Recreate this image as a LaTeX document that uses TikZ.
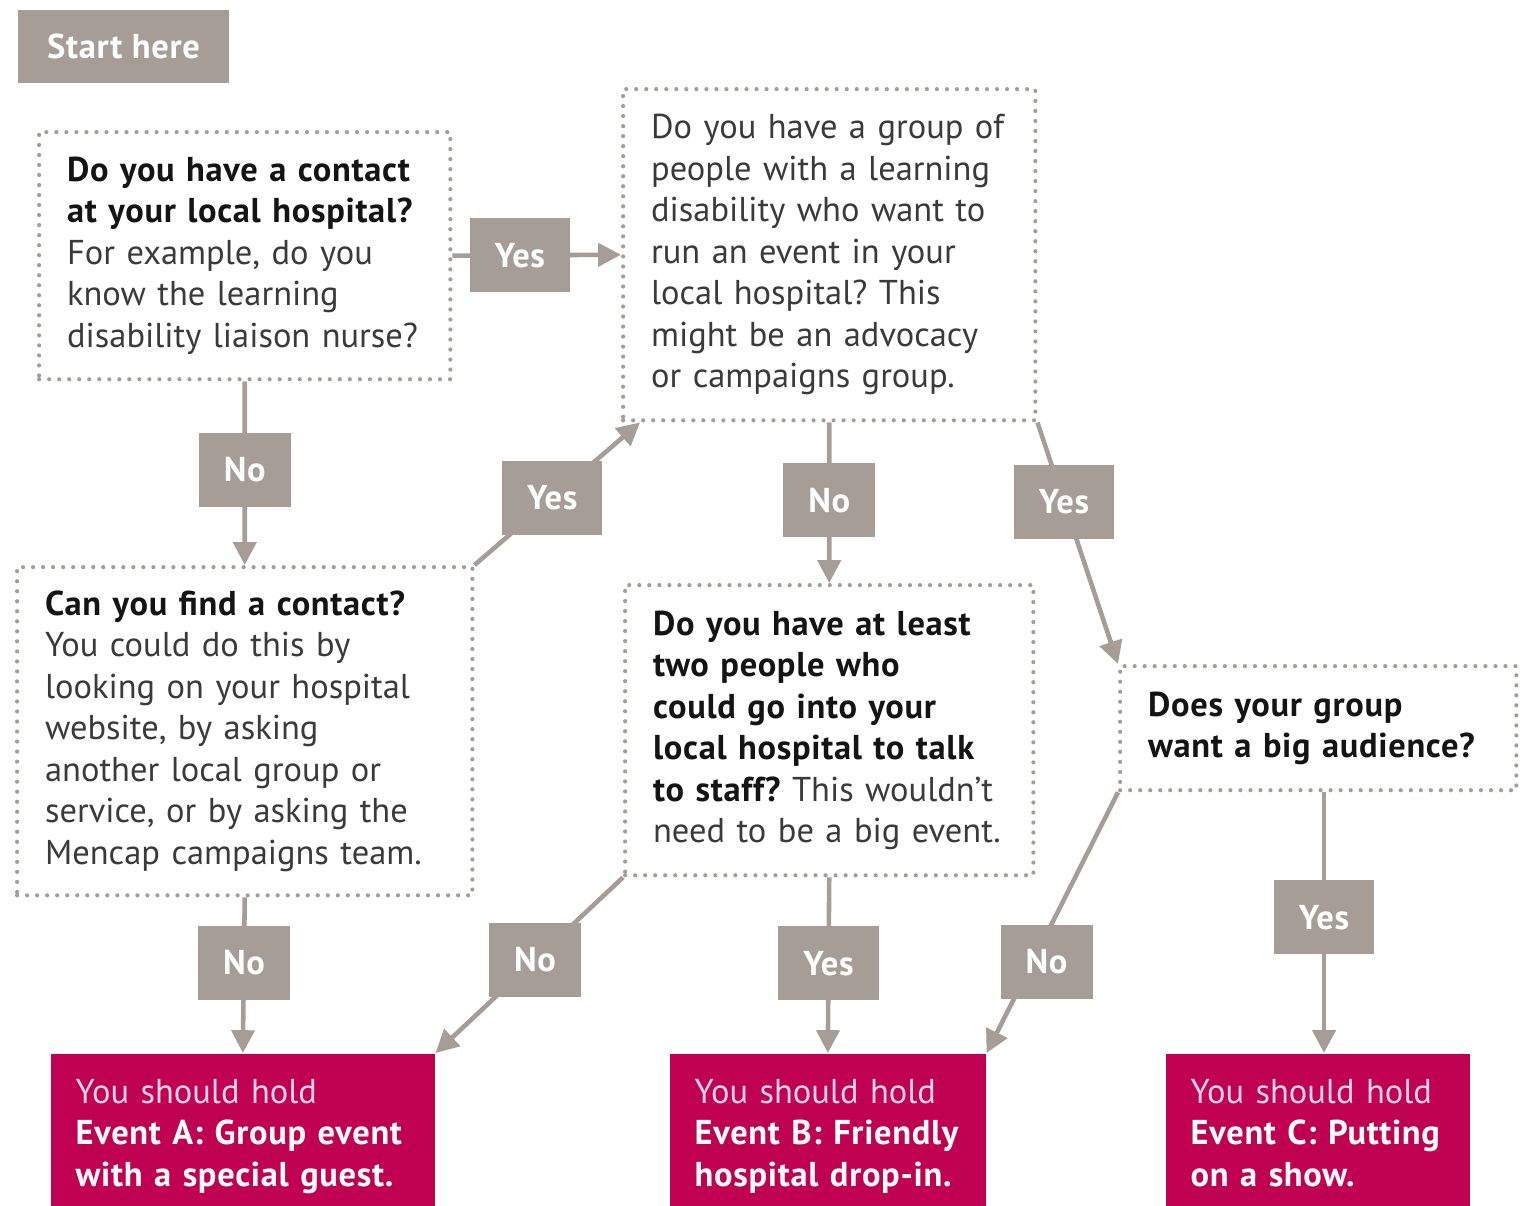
\documentclass[tikz,border=0pt]{standalone}
\usepackage{fontspec}
\setmainfont{PT Sans}[BoldFeatures={LetterSpace=2}]
\usepackage{tikz}
\usetikzlibrary{arrows.meta,positioning}
\definecolor{boxgrey}{RGB}{166,158,150}
\definecolor{mencap}{RGB}{192,0,80}
\definecolor{qtext}{RGB}{58,58,58}
\definecolor{qbold}{RGB}{20,20,20}
\definecolor{holdpink}{RGB}{250,214,230}
\newcommand{\qhead}[1]{\textbf{\color{qbold}#1}}
\frenchspacing

\begin{document}
\begin{tikzpicture}[x=0.01cm,y=-0.01cm,
		>={Triangle[length=6.5pt,width=6.5pt]},
		every node/.style={font=\fontsize{9.8}{11.8}\selectfont},
		% lines are broken by hand, so never let them wrap
		keeplines/.style={execute at begin node={\rightskip=0pt plus 1fil minus 1cm}},
		question/.style={draw=boxgrey, line width=1.2pt, dash pattern=on 0pt off 2.85pt,
			line cap=round, anchor=north west, align=left, inner xsep=0.28cm,
			inner ysep=0pt, text=qtext, keeplines},
		answer/.style={fill=boxgrey, text=white, inner xsep=0.25cm, inner ysep=0pt,
			minimum height=0.74cm, font=\fontsize{9.8}{11.8}\selectfont\bfseries},
		outcome/.style={fill=mencap, text=white, anchor=north west, align=left,
			inner xsep=0.25cm, inner ysep=0pt, minimum height=1.7cm, keeplines},
		link/.style={draw=boxgrey, line width=1.3pt, ->}]
	
	\path[use as bounding box] (0,0) rectangle (1522,1205);
	\clip (0,0) rectangle (1522,1205);
	
	\path 
	(37,130)   coordinate (c1)
	(621,87)   coordinate (c2)
	(15,565)   coordinate (c3)
	(623,583)  coordinate (c4)
	(1118,664) coordinate (c5)
	(50,1053)  coordinate (cA)
	(669,1053) coordinate (cB)
	(1165,1053) coordinate (cC)
	(1324,0)   coordinate (cline)
	;
	
	\node[answer, minimum height=0.73cm, minimum width=2.11cm] (start) at (123.5,46.5) {Start here};
	
	\node[question, text width=3.55cm, minimum height=2.47cm] (q1) at (c1)
	{\qhead{Do you have a contact}\\\qhead{at your local hospital?}\\For example, do you\\know the learning\\disability liaison nurse?};
	\node[question, text width=3.56cm, minimum height=3.31cm] (q2) at (c2)
	{Do you have a group of\\people with a learning\\disability who want to\\run an event in your\\local hospital? This\\might be an advocacy\\or campaigns group.};
	\node[question, text width=3.99cm, minimum height=3.28cm] (q3) at (c3)
	{\qhead{Can you find a contact?}\\You could do this by\\looking on your hospital\\website, by asking\\another local group or\\service, or by asking the\\Mencap campaigns team.};
	\node[question, text width=3.52cm, minimum height=2.90cm] (q4) at (c4)
	{\qhead{Do you have at least}\\\qhead{two people who}\\\qhead{could go into your}\\\qhead{local hospital to talk}\\\qhead{to staff?} This wouldn’t\\need to be a big event.};
	\node[question, text width=3.40cm, minimum height=1.24cm] (q5) at (c5)
	{\qhead{Does your group}\\\qhead{want a big audience?}};
	
	\node[outcome, text width=3.34cm] (evA) at (cA)
	{{\color{holdpink}You should hold}\\\textbf{Event A: Group event}\\\textbf{with a special guest.}\strut};
	\node[outcome, text width=2.66cm] (evB) at (cB)
	{{\color{holdpink}You should hold}\\\textbf{Event B: Friendly}\\\textbf{hospital drop-in.}\strut};
	\node[outcome, text width=2.54cm] (evC) at (cC)
	{{\color{holdpink}You should hold}\\\textbf{Event C: Putting}\\\textbf{on a show.}\strut};
	
	\draw[link] (q1.east) -- node[answer, pos=0.4] (yes1) {Yes} (q2.west);
	\draw[link] (q1.south) -- node[answer, pos=0.48] (no1) {No} (q3.north);
	\draw[link] (q3.north east) -- node[answer, pos=0.47] (yes2) {Yes} ([xshift=0.19cm]q2.south west);
	\draw[link] (q2.south) -- node[answer, pos=0.485] (no2) {No} (q4.north);
	\draw[link] (q2.south east) -- node[answer, pos=0.33] (yes3) {Yes} (q5.north west);
	
	\draw[link] (q3.south) -- node[answer, pos=0.42] (no3) {No} (evA.north);
	\draw[link] (q4.south west) -- node[answer, pos=0.47] (no4) {No} (evA.north east);
	\draw[link] (q4.south) -- node[answer, pos=0.49] (yes4) {Yes} (evB.north);
	\draw[link] (q5.south west) -- node[answer, pos=0.65, xshift=0.14cm] (no5) {No} (evB.north east);
	\draw[link] (q5.south -| cline) -- node[answer, pos=0.48] (yes5) {Yes} (evC.north -| cline);
	
\end{tikzpicture}
\end{document}
